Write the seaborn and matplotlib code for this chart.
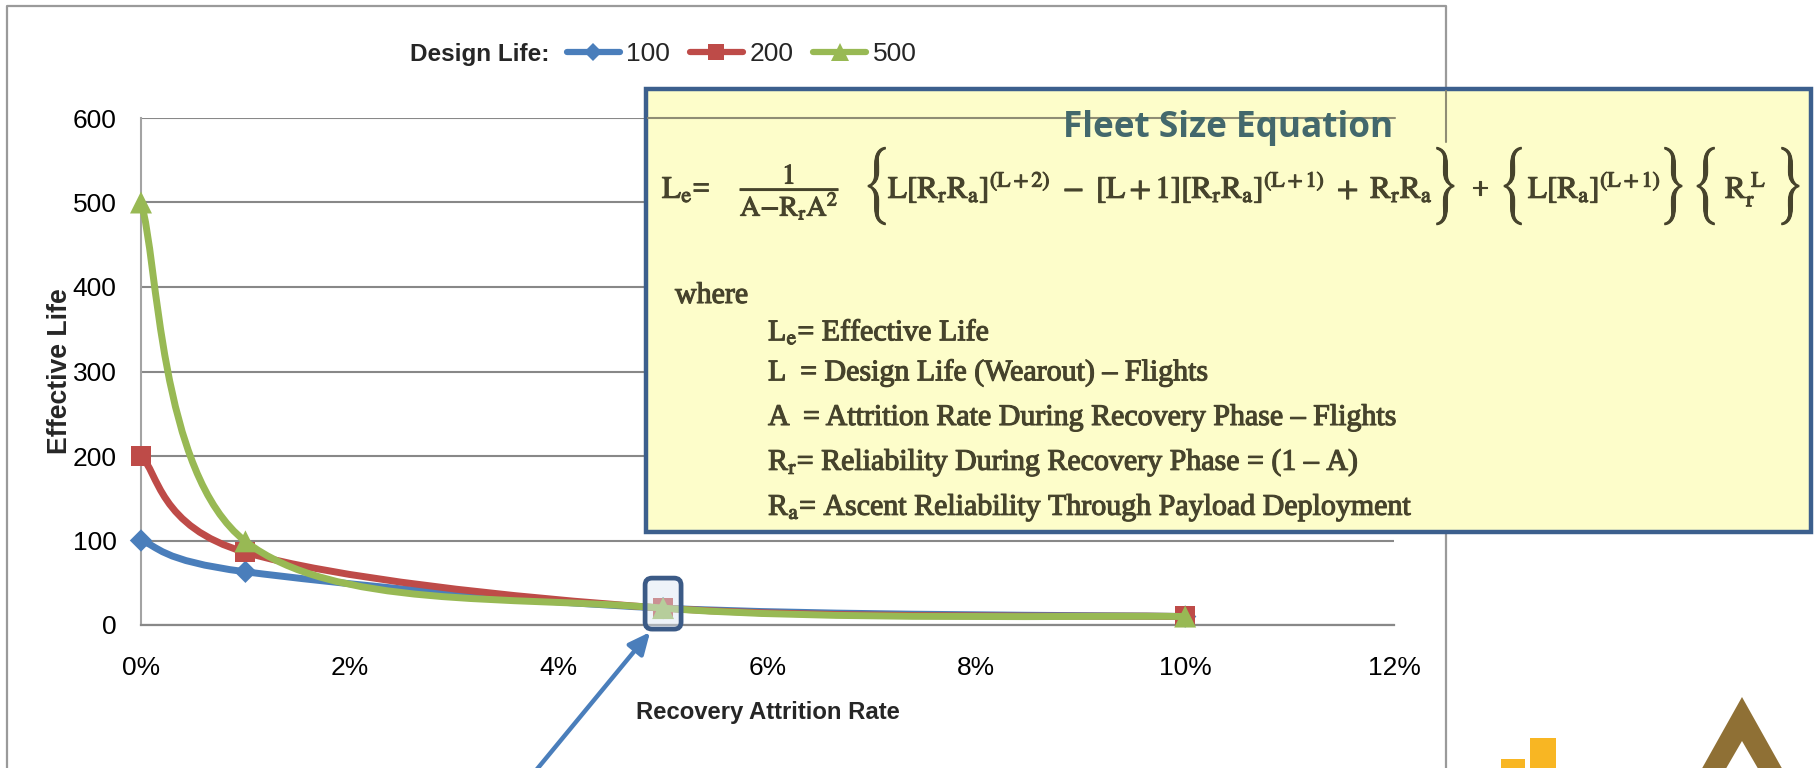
import matplotlib
matplotlib.use("Agg")
import matplotlib.pyplot as plt
from matplotlib import font_manager
from matplotlib import patheffects
from matplotlib.path import Path
from matplotlib.patches import PathPatch, Rectangle, FancyBboxPatch, Polygon, FancyArrowPatch
from matplotlib.lines import Line2D
from matplotlib.transforms import Affine2D
from matplotlib.ticker import PercentFormatter
import numpy as np
import pandas as pd
import seaborn as sns

# ---------------- data ----------------
attrition_rate = [0.00, 0.01, 0.05, 0.10]
effective_life_100 = [100, 63, 20, 10]
effective_life_200 = [200, 86, 20, 10]
effective_life_500 = [500, 99, 20, 10]
design_life_labels = ["100", "200", "500"]
x_tick_values = [0.00, 0.02, 0.04, 0.06, 0.08, 0.10, 0.12]
y_tick_values = [0, 100, 200, 300, 400, 500, 600]
highlight_rate = 0.05
highlight_life = 20

equation_title = "Fleet Size Equation"
where_word = "where"
definitions = [
    r"L$_\mathrm{e}$= Effective Life",
    "L  = Design Life (Wearout) – Flights",
    "A  = Attrition Rate During Recovery Phase – Flights",
    r"R$_\mathrm{r}$= Reliability During Recovery Phase = (1 – A)",
    r"R$_\mathrm{a}$= Ascent Reliability Through Payload Deployment",
]

series = {
    "100": effective_life_100,
    "200": effective_life_200,
    "500": effective_life_500,
}
df = pd.DataFrame({
    "rate": attrition_rate * len(design_life_labels),
    "life": sum((series[k] for k in design_life_labels), []),
    "design": sum(([k] * len(attrition_rate) for k in design_life_labels), []),
})

# ---------------- style ----------------
sns.set_style("white")
fonts = font_manager.fontManager.ttflist
available = {f.name for f in fonts}


def first_font(*names):
    for n in names:
        if n in available:
            return n
    return "DejaVu Sans"


def has_bold(name):
    return any(f.name == name and f.weight in (600, 700, 800, "bold", "semibold")
               for f in fonts)


NARROW = "Liberation Sans Narrow" if ("Liberation Sans Narrow" in available
                                      and has_bold("Liberation Sans Narrow")) \
    else first_font("Liberation Sans", "Open Sans")
ARIAL = first_font("Liberation Sans", "Open Sans")
SERIF = first_font("Liberation Serif", "DejaVu Serif")
TITLE_FONT = first_font("Open Sans", "Noto Sans")
BRACE_FONT = first_font("STIXSizeTwoSym", "STIXGeneral", "DejaVu Serif")

plt.rcParams["font.family"] = [NARROW, "DejaVu Sans"]
plt.rcParams["mathtext.fontset"] = "stix"

COLORS = {"100": "#4a7ebb", "200": "#be4b48", "500": "#98b954"}
MARKERS = {"100": "D", "200": "s", "500": "^"}
MARKER_S = {"100": 130, "200": 210, "500": 250}
GRID = "#888888"
INK = "#46432c"
HEAVY = [patheffects.withStroke(linewidth=0.8, foreground=INK)]

W, H = 1814, 768
fig = plt.figure(figsize=(W / 100, H / 100), dpi=100)
fig.patch.set_facecolor("white")
# pixel coordinates measured from the top-left corner of the figure
PX = Affine2D().scale(1 / W, -1 / H).translate(0, 1) + fig.transFigure

ax = fig.add_axes([141 / W, 1 - 625 / H, (1394 - 141) / W, (625 - 118) / H])


def smooth_path(xs, ys):
    """Cubic Bezier through the points (spreadsheet-style smoothed line)."""
    pts = np.column_stack([xs, ys]).astype(float)
    n = len(pts)
    verts, codes = [pts[0]], [Path.MOVETO]
    for i in range(n - 1):
        p0 = pts[i - 1] if i > 0 else pts[i]
        p1, p2 = pts[i], pts[i + 1]
        p3 = pts[i + 2] if i + 2 < n else pts[i + 1]
        verts += [p1 + (p2 - p0) / 6.0, p2 - (p3 - p1) / 6.0, p2]
        codes += [Path.CURVE4] * 3
    return Path(verts, codes)


for i, key in enumerate(design_life_labels):
    sub = df[df["design"] == key]
    ax.add_patch(PathPatch(smooth_path(sub["rate"], sub["life"]), fill=False,
                           edgecolor=COLORS[key], lw=5, capstyle="round",
                           joinstyle="round", zorder=3 + 2 * i, clip_on=False))
    sns.scatterplot(data=sub, x="rate", y="life", marker=MARKERS[key],
                    s=MARKER_S[key], color=COLORS[key], edgecolor="none",
                    linewidth=0, ax=ax, zorder=4 + 2 * i, legend=False,
                    clip_on=False)

ax.set_xlabel("")
ax.set_ylabel("")
ax.set_xlim(0, 0.12)
ax.set_ylim(0, 600)
ax.set_xticks(x_tick_values)
ax.set_yticks(y_tick_values)
ax.xaxis.set_major_formatter(PercentFormatter(xmax=1, decimals=0))
ax.yaxis.grid(True, color=GRID, lw=1.5)
ax.xaxis.grid(False)
ax.set_axisbelow(True)
for s in ("top", "right"):
    ax.spines[s].set_visible(False)
ax.spines["left"].set_color("#a3a3a3")
ax.spines["left"].set_linewidth(1.5)
ax.spines["bottom"].set_color(GRID)
ax.spines["bottom"].set_linewidth(1.6)
ax.tick_params(axis="x", direction="out", length=7, width=1.5, color=GRID,
               pad=15, labelsize=19, labelcolor="black")
ax.tick_params(axis="y", direction="out", length=6.5, width=1.5, color=GRID,
               pad=11, labelsize=19, labelcolor="black")

renderer = fig.canvas.get_renderer()


def fit(t, target, vertical=False):
    bb = t.get_window_extent(renderer)
    cur = bb.height if vertical else bb.width
    t.set_fontsize(t.get_fontsize() * target / cur)
    return t


# axis titles
fit(fig.text(60, 371, "Effective Life", transform=PX, rotation=90, ha="center",
             va="center", fontsize=19, fontweight="bold", family=ARIAL), 166, True)
fit(fig.text(768, 713, "Recovery Attrition Rate", transform=PX, ha="center",
             va="center", fontsize=19, fontweight="bold"), 264)

# legend
fit(fig.text(549, 54, "Design Life:", transform=PX, ha="right", va="center",
             fontsize=19, fontweight="bold"), 139)
handles = [Line2D([], [], color=COLORS[k], lw=4.5, marker=MARKERS[k],
                  markersize={"100": 9, "200": 12, "500": 13}[k],
                  markeredgewidth=0) for k in design_life_labels]
fig.legend(handles, design_life_labels, loc="center left",
           bbox_to_anchor=(567 / W, 1 - 54 / H), ncol=3, frameon=False,
           borderpad=0, borderaxespad=0, handlelength=2.0, handletextpad=0.25,
           columnspacing=0.75, fontsize=19)

# outer chart frame
fig.add_artist(Line2D([7, 7, 1446, 1446], [780, 6, 6, 780], transform=PX,
                      color="#9a9a9a", lw=1.6, zorder=1.5))

# highlighted point and pointer arrow
px, py = ax.transData.transform((highlight_rate, highlight_life))
py = H - py
fig.add_artist(FancyBboxPatch((px - 18, py - 30), 36, 51,
                              boxstyle="round,pad=0,rounding_size=7", transform=PX,
                              facecolor=(0.86, 0.90, 0.95, 0.45),
                              edgecolor="#3b5a86", lw=3.4, zorder=2))
fig.add_artist(FancyArrowPatch(posA=(533, 774), posB=(px - 13, py + 24),
                               transform=PX, arrowstyle="-|>,head_length=13,head_width=6",
                               color="#4a7ebb", lw=3.2, shrinkA=0, shrinkB=0,
                               zorder=2))

# equation panel
fig.add_artist(Rectangle((646, 89), 1811 - 646, 532 - 89, transform=PX,
                         facecolor="#fdfdca", edgecolor="#3c5f8d", lw=3.2, zorder=2))
fig.add_artist(Line2D([648, 1395], [118, 118], transform=PX, color="#8f8d74",
                      lw=1.5, zorder=2.2))
fig.add_artist(Line2D([1446, 1446], [91, 142], transform=PX, color="#8f8d74",
                      lw=1.5, zorder=2.2))

fit(fig.text(1063, 128, equation_title, transform=PX, ha="left", va="center",
             fontsize=22, fontweight="bold", color="#43686c", family=TITLE_FONT,
             zorder=3), 329)

inner = (r"$\mathrm{L[R_r R_a]^{(L+2)}\ -\ [L+1][R_r R_a]^{(L+1)}\ +\ R_r R_a}$")
t_inner = fit(fig.text(888, 198, inner, transform=PX, ha="left", va="baseline",
                       fontsize=20, color=INK, zorder=3, path_effects=HEAVY), 545)
eq_size = t_inner.get_fontsize()
eq_pieces = [
    (662, 198, r"$\mathrm{L_e}$=", "baseline"),
    (1471, 198, "+", "baseline"),
    (1528, 198, r"$\mathrm{L[R_a]^{(L+1)}}$", "baseline"),
    (1725, 198, r"$\mathrm{R_r^{\ L}}$", "baseline"),
]
for x, y, s, va in eq_pieces:
    fig.text(x, y, s, transform=PX, ha="left", va=va, fontsize=eq_size,
             color=INK, family=SERIF, zorder=3, path_effects=HEAVY)
fit(fig.text(740, 192, r"$\dfrac{1}{\mathrm{A{-}R_r A^2}}$", transform=PX,
             ha="left", va="center", fontsize=eq_size, color=INK, zorder=3,
             path_effects=HEAVY), 100)

brace_pos = [(878, "{"), (1444, "}"), (1514, "{"), (1672, "}"), (1707, "{"), (1789, "}")]
for x, b in brace_pos:
    t = fig.text(x, 186, b, transform=PX, ha="center", va="center", fontsize=30,
                 color=INK, family=BRACE_FONT, zorder=3, path_effects=HEAVY)
    fit(t, 78, True)

t_last = fig.text(768, 508, definitions[-1], transform=PX, ha="left", va="center",
                  fontsize=20, color=INK, family=SERIF, zorder=3, path_effects=HEAVY)
def_size = fit(t_last, 644).get_fontsize()
fig.text(675, 296, where_word, transform=PX, ha="left", va="center",
         fontsize=def_size, color=INK, family=SERIF, zorder=3, path_effects=HEAVY)
for y, s in zip([332, 373, 418, 463], definitions[:-1]):
    fig.text(768, y, s, transform=PX, ha="left", va="center", fontsize=def_size,
             color=INK, family=SERIF, zorder=3, path_effects=HEAVY)

# corner logos
fig.add_artist(Rectangle((1501, 759), 24, 12, transform=PX, facecolor="#f8b623",
                         edgecolor="none", zorder=2))
fig.add_artist(Rectangle((1530, 738), 26, 33, transform=PX, facecolor="#f8b623",
                         edgecolor="none", zorder=2))
fig.add_artist(Polygon([(1742, 697), (1700, 772), (1784, 772)], closed=True,
                       transform=PX, facecolor="#8f7035", edgecolor="none", zorder=2))
fig.add_artist(Polygon([(1742, 741), (1724, 772), (1760, 772)], closed=True,
                       transform=PX, facecolor="white", edgecolor="none", zorder=2.1))

fig.savefig("out.png", dpi=100, facecolor="white")
